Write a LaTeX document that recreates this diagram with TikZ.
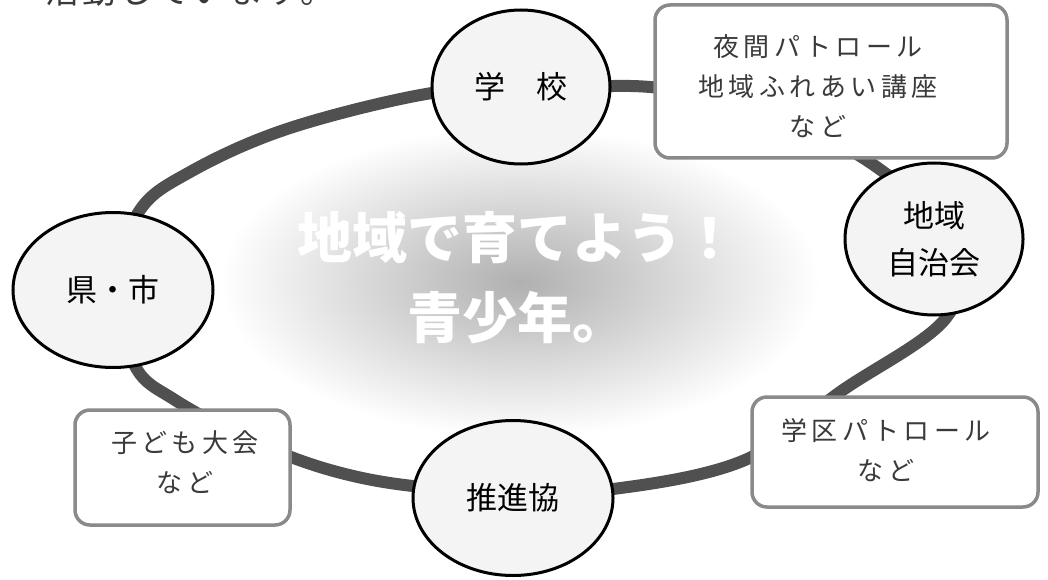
\documentclass[tikz,border=0pt]{standalone}
\usepackage{fontspec}
\newfontfamily\jp{Noto Sans CJK JP}
\newfontfamily\jpsp[LetterSpace=17]{Noto Sans CJK JP}
\newfontfamily\jptop[LetterSpace=9]{Noto Sans CJK JP}
\usetikzlibrary{shapes.geometric}
\definecolor{bandgray}{HTML}{505050}
\definecolor{boxline}{HTML}{8A8A8A}
\definecolor{circfill}{HTML}{F4F4F4}
\definecolor{mincho}{HTML}{3A3A3A}
\begin{document}
\begin{tikzpicture}[x=1pt,y=-1pt,
  org/.style={ellipse,draw=black,line width=3pt,fill=circfill,inner sep=0pt,
    align=center,font=\jp\fontsize{31}{47}\selectfont},
  infobox/.style={rectangle,rounded corners=15pt,draw=boxline,line width=3.5pt,fill=white,inner sep=0pt},
  infotext/.style={align=center,text=mincho,font=\jpsp\fontsize{26}{40}\selectfont,inner sep=0pt},
  title/.style={text=white,font=\jp\bfseries\fontsize{55}{60}\selectfont,inner sep=0pt}]
\useasboundingbox (0,0) rectangle (1048,580);
\clip (0,0) rectangle (1048,580);
\fill[white] (0,0) rectangle (1048,580);
% glow behind the title
\shade[inner color=gray!62,outer color=white] (520,282) ellipse [x radius=300,y radius=155];
% top-left cut text
\node[text=mincho,font=\jptop\fontsize{34}{40}\selectfont,inner sep=0pt] (lead) at (190,-9) {活動しています。};
% ring coordinates
\coordinate (r1) at (521,91);
\coordinate (r2) at (650,87);
\coordinate (r3) at (770,113);
\coordinate (r4) at (878,168);
\coordinate (r5) at (955,245);
\coordinate (r6) at (946,318);
\coordinate (r7) at (840,392);
\coordinate (r8) at (745,460);
\coordinate (r9) at (613,489);
\coordinate (r10) at (513,490);
\coordinate (r11) at (413,486);
\coordinate (r12) at (330,470);
\coordinate (r13) at (250,440);
\coordinate (r14) at (175,400);
\coordinate (r15) at (135,366);
\coordinate (r16) at (116,290);
\coordinate (r17) at (138,213);
\coordinate (r18) at (190,172);
\coordinate (r19) at (290,128);
\coordinate (r20) at (432,93);
\draw[bandgray,line width=12pt] plot[smooth cycle,tension=0.6] coordinates {(r1) (r2) (r3) (r4) (r5) (r6) (r7) (r8) (r9) (r10) (r11) (r12) (r13) (r14) (r15) (r16) (r17) (r18) (r19) (r20)};
% title
\node[title] (title1) at (517,238) {地域で育てよう！};
\node[title] (title2) at (517,318) {青少年。};
% organisations
\node[org,minimum width=178pt,minimum height=154pt] (school) at (521,87) {学　校};
\node[org,minimum width=178pt,minimum height=152pt] (chiiki) at (934,239) {地域\\自治会};
\node[org,minimum width=200pt,minimum height=155pt] (suishin) at (513,498) {推進協};
\node[org,minimum width=200pt,minimum height=155pt] (ken) at (113,290) {県・市};
% boxes
\node[infobox,minimum width=352pt,minimum height=153pt] (box1) at (831,81.5) {};
\node[infotext] (box1t) at (818,86) {夜間パトロール\\地域ふれあい講座\\など};
\node[infobox,minimum width=286pt,minimum height=110pt] (box2) at (895,452) {};
\node[infotext] (box2t) at (886,450) {学区パトロール\\など};
\node[infobox,minimum width=215pt,minimum height=115pt] (box3) at (182.5,467.5) {};
\node[infotext] (box3t) at (185,462) {子ども大会\\など};
\end{tikzpicture}
\end{document}
